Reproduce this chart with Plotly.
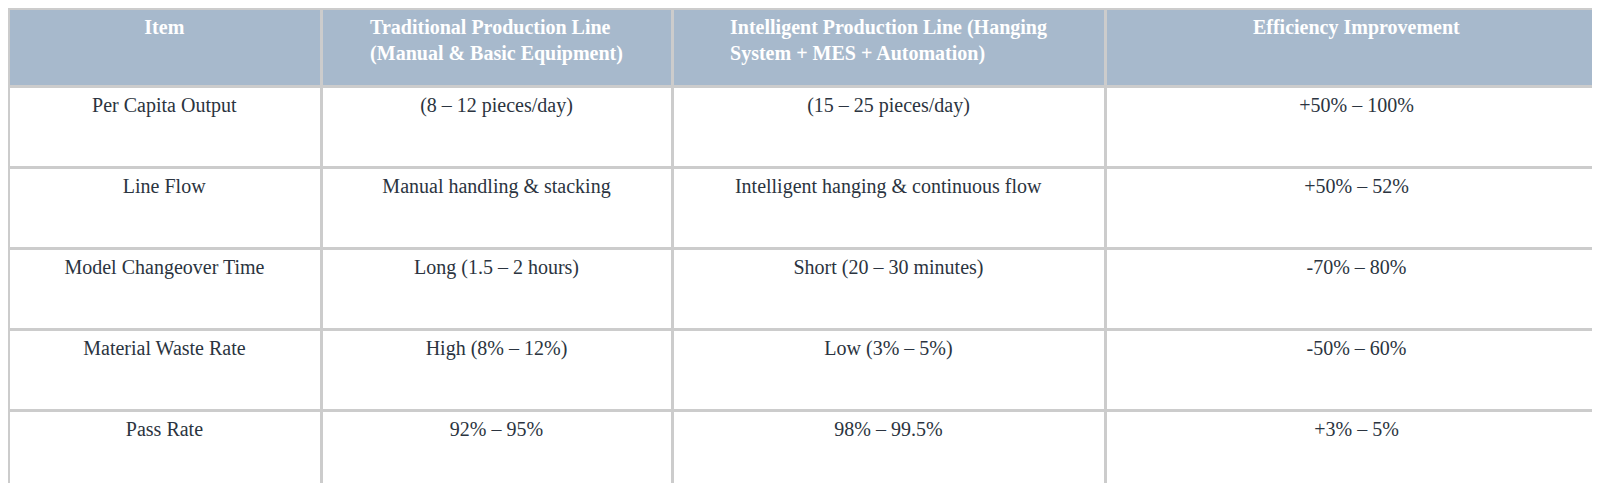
import plotly.graph_objects as go

headers = ['<br><b>Item</b>',
           '<b>Traditional Production Line<br>(Manual & Basic Equipment)</b>',
           '<b>Intelligent Production Line (Hanging<br>System + MES + Automation)</b>',
           '<br><b>Efficiency Improvement</b>']
items = ['Per Capita Output', 'Line Flow', 'Model Changeover Time', 'Material Waste Rate', 'Pass Rate']
traditional = ['(8 – 12 pieces/day)', 'Manual handling & stacking', 'Long (1.5 – 2 hours)',
               'High (8% – 12%)', '92% – 95%']
intelligent = ['(15 – 25 pieces/day)', 'Intelligent hanging & continuous flow', 'Short (20 – 30 minutes)',
               'Low (3% – 5%)', '98% – 99.5%']
improvement = ['+50% – 100%', '+50% – 52%', '-70% – 80%', '-50% – 60%', '+3% – 5%']

# push single-line cell text down one line so it sits near the middle of the row
pad = lambda col: ['<br>' + v for v in col]

fig = go.Figure(go.Table(
    columnwidth=[313, 351, 433, 503],
    header=dict(values=headers, fill_color='#a7b9cc', line=dict(color='#cccccc', width=3),
                font=dict(family='Liberation Serif', size=20, color='white'),
                align='center', height=78),
    cells=dict(values=[pad(items), pad(traditional), pad(intelligent), pad(improvement)],
               fill_color='white', line=dict(color='#cccccc', width=3),
               font=dict(family='Liberation Serif', size=20, color='#2b3440'),
               align='center', height=81),
))
fig.update_layout(width=1600, height=483, margin=dict(l=0, r=0, t=0, b=0), paper_bgcolor='white')
fig.write_html('out.html')
